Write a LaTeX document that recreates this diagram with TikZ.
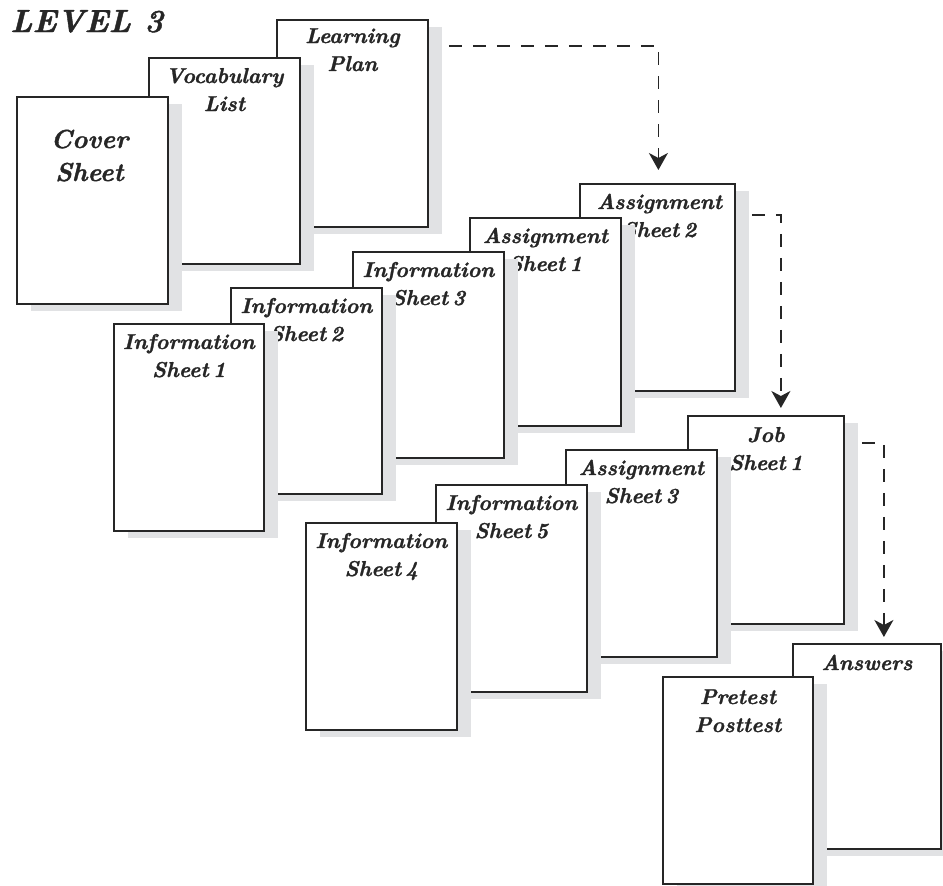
\documentclass[tikz,border=0pt]{standalone}
\usepackage{fontspec}
\newfontface\lbf{lmroman10-bolditalic.otf}[FakeBold=1.3]
\newcommand\nsp{\hspace{0.2em}}
\usetikzlibrary{shadows,arrows.meta,calc}
\definecolor{shade}{HTML}{E1E2E4}
\definecolor{ink}{HTML}{262626}
\tikzset{
  sheet/.style={draw=ink, line width=1.8pt, fill=white, anchor=north west, inner sep=0pt,
    drop shadow={shadow xshift=14pt, shadow yshift=-7pt, fill=shade, opacity=1, draw=none}},
  lbl/.style={font=\fontsize{21.5}{28}\lbf, align=center, inner sep=0pt, text=ink, anchor=base},
  flow/.style={draw=ink, line width=1.8pt, dash pattern=on 13pt off 11pt, -{Stealth[length=17pt, width=19pt, inset=5pt]}}
}
\begin{document}
\begin{tikzpicture}[x=1pt, y=-1pt]
\useasboundingbox (0,0) rectangle (943,886);
\node[anchor=base west, inner sep=0pt, font=\fontsize{32}{32}\lbf, text=ink] (title) at (10,32) {LEVEL 3};

% group 1
\node[sheet, minimum width=151pt, minimum height=207pt] (lp) at (276,19) {};
\node[lbl] (lpT) at ($(lp.north)+(0,52)$) {Learning\\Plan};
\node[sheet, minimum width=151pt, minimum height=206pt] (voc) at (148,57) {};
\node[lbl] (vocT) at ($(voc.north)+(0,54)$) {Vocabulary\\List};
\node[sheet, minimum width=151pt, minimum height=207pt] (cover) at (16,96) {};
\node[lbl, font=\fontsize{26}{33}\lbf] (coverT) at ($(cover.north)+(-3,85)$) {Cover\\Sheet};

% group 2
\node[sheet, minimum width=155pt, minimum height=207pt] (as2) at (579,183) {};
\node[lbl] (as2T) at ($(as2.north)+(2,54)$) {Assignment\\Sheet\nsp2};
\node[sheet, minimum width=151pt, minimum height=208pt] (as1) at (469,217) {};
\node[lbl] (as1T) at ($(as1.north)+(0,54)$) {Assignment\\Sheet\nsp1};
\node[sheet, minimum width=151pt, minimum height=206pt] (in3) at (352,251) {};
\node[lbl] (in3T) at ($(in3.north)+(0,54)$) {Information\\Sheet\nsp3};
\node[sheet, minimum width=151pt, minimum height=206pt] (in2) at (230,287) {};
\node[lbl] (in2T) at ($(in2.north)+(0,54)$) {Information\\Sheet\nsp2};
\node[sheet, minimum width=150pt, minimum height=207pt] (in1) at (113,323) {};
\node[lbl] (in1T) at ($(in1.north)+(0,54)$) {Information\\Sheet\nsp1};

% group 3
\node[sheet, minimum width=156pt, minimum height=208pt] (job) at (687,415) {};
\node[lbl] (jobT) at ($(job.north)+(0,55)$) {Job\\Sheet\nsp1};
\node[sheet, minimum width=151pt, minimum height=207pt] (as3) at (565,449) {};
\node[lbl] (as3T) at ($(as3.north)+(0,54)$) {Assignment\\Sheet\nsp3};
\node[sheet, minimum width=151pt, minimum height=207pt] (in5) at (435,484) {};
\node[lbl] (in5T) at ($(in5.north)+(0,54)$) {Information\\Sheet\nsp5};
\node[sheet, minimum width=151pt, minimum height=207pt] (in4) at (305,522) {};
\node[lbl] (in4T) at ($(in4.north)+(0,54)$) {Information\\Sheet\nsp4};

% group 4
\node[sheet, minimum width=148pt, minimum height=205pt] (ans) at (792,643) {};
\node[lbl] (ansT) at ($(ans.north)+(0,27)$) {Answers};
\node[sheet, minimum width=150pt, minimum height=207pt] (pre) at (662,676) {};
\node[lbl] (preT) at ($(pre.north)+(0,56)$) {Pretest\\Posttest};

% connectors
\coordinate (a1s) at ($(lp.north east)+(20,27)$);
\coordinate (a1e) at ($(as2.north)+(1,-13)$);
\draw[flow] (a1s) -| (a1e);
\coordinate (a2s) at ($(as2.north east)+(16,32)$);
\coordinate (a2e) at ($(job.north)+(15,-7)$);
\draw[flow] (a2s) -| (a2e);
\coordinate (a3s) at ($(job.north east)+(17,28)$);
\coordinate (a3e) at ($(ans.north)+(17,-6)$);
\draw[flow] (a3s) -| (a3e);
\end{tikzpicture}
\end{document}
